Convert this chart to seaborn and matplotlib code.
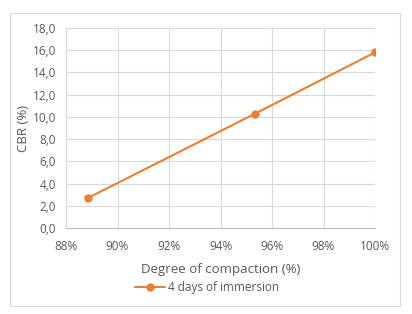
import pandas as pd
import seaborn as sns
import matplotlib.pyplot as plt
from matplotlib.ticker import FuncFormatter, MultipleLocator
from matplotlib.patches import Rectangle

# values
compaction = [88.85, 95.35, 100.0]   # degree of compaction (%)
cbr = [2.7, 10.3, 15.8]              # CBR (%)
series_name = "4 days of immersion"

df = pd.DataFrame({"compaction": compaction, "cbr": cbr, "series": series_name})

sns.set_style("white")
plt.rcParams['font.family'] = ['Open Sans', 'DejaVu Sans']

grey_txt = "#595959"
orange = "#ED7D31"

fig = plt.figure(figsize=(4.12, 3.14), dpi=100)
ax = fig.add_axes([66 / 412, 1 - 228 / 314, (375 - 66) / 412, (228 - 28) / 314])

# chart frame
fig.patches.append(Rectangle((10 / 412, 1 - 306 / 314), 390 / 412, 293 / 314,
                             transform=fig.transFigure, fill=False,
                             edgecolor="#d9d9d9", linewidth=0.8))

sns.lineplot(data=df, x="compaction", y="cbr", hue="series", palette=[orange],
             marker="o", markersize=6, markeredgewidth=0, linewidth=1.5, ax=ax)

ax.set_xlim(88, 100)
ax.set_ylim(0, 18)
ax.xaxis.set_major_locator(MultipleLocator(2))
ax.yaxis.set_major_locator(MultipleLocator(2))
ax.xaxis.set_major_formatter(FuncFormatter(lambda v, p: f"{v:.0f}%"))
ax.yaxis.set_major_formatter(FuncFormatter(lambda v, p: f"{v:.1f}".replace(".", ",")))
ax.grid(True, color="#d9d9d9", linewidth=0.8)
for s in ["top", "right", "left"]:
    ax.spines[s].set_visible(False)
ax.spines["bottom"].set_color("#bfbfbf")
ax.tick_params(axis="both", length=0, labelsize=8.5, colors=grey_txt)
ax.tick_params(axis="x", pad=9)
ax.tick_params(axis="y", pad=7)

ax.set_xlabel("Degree of compaction (%)", fontsize=9.5, color=grey_txt, labelpad=7)
ax.set_ylabel("CBR (%)", fontsize=9.5, color=grey_txt, labelpad=2)

ax.legend(loc="upper center", bbox_to_anchor=(0.455, -0.24), frameon=False,
          fontsize=8.5, labelcolor=grey_txt, handlelength=2.6, handletextpad=0.2,
          borderaxespad=0)

fig.savefig("out.png", dpi=100)
